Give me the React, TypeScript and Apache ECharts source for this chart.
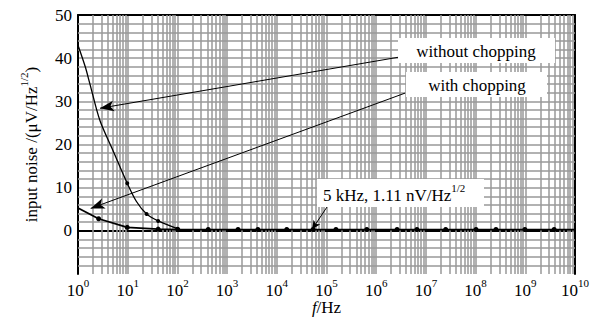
import React, { useEffect, useRef } from 'react';
import * as echarts from 'echarts';

// "with chopping" curve (frequency in Hz, noise in μV/Hz^1/2)
const withFreq = [1, 2.6, 9.8, 41, 102, 417, 1660, 4170, 15850, 53700, 155000, 646000, 2630000, 6600000, 25000000, 102000000, 257000000, 980000000, 3800000000, 10000000000];
const withNoise = [5.3, 2.8, 0.8, 0.4, 0.3, 0.3, 0.3, 0.3, 0.3, 0.3, 0.3, 0.3, 0.3, 0.3, 0.3, 0.3, 0.3, 0.3, 0.3, 0.3];
const withMarked = [false, true, true, true, true, true, true, true, true, true, true, true, true, true, true, true, true, true, true, false];

// "without chopping" curve
const withoutFreq = [1, 1.4, 1.74, 2.75, 5, 9.8, 15, 24, 41, 100];
const withoutNoise = [43, 38, 34, 25.6, 18.7, 11, 6.8, 3.9, 2.3, 0.5];
const withoutMarked = [false, false, false, false, false, true, false, true, true, true];

// axis ticks
const xTickExponents = [0, 1, 2, 3, 4, 5, 6, 7, 8, 9, 10];
const yTickValues = [0, 10, 20, 30, 40, 50];
const yMajorGrid = [-10, 0, 10, 20, 30, 40];
const yMinorSteps = [2, 4, 6, 8];
const minorMultipliers = [2, 3, 4, 5, 6, 7, 8, 9];

// annotation arrows: [fromFreq, fromNoise, toFreq, toNoise]
const arrowWithout = [2750000, 40.2, 2.77, 28.4];
const arrowWith = [3800000, 31.9, 1.8, 5.2];
const arrowPoint = [102000, 5.5, 51000, 0.3];

const FONT = 'Liberation Serif';

export default function App() {
  const ref = useRef<HTMLDivElement>(null);
  useEffect(() => {
    if (!ref.current) return;
    const chart = echarts.init(ref.current, undefined, { renderer: 'svg' });

    const gridLines: any[] = [];
    xTickExponents.slice(0, -1).forEach((e) => {
      minorMultipliers.forEach((m) => gridLines.push({ xAxis: m * Math.pow(10, e) }));
    });
    yMajorGrid.forEach((b) => {
      yMinorSteps.forEach((s) => gridLines.push({ yAxis: b + s }));
    });

    const arrowSeg = (a: number[]) => [{ coord: [a[0], a[1]] }, { coord: [a[2], a[3]] }];

    const tickRich = {
      b: { fontFamily: FONT, fontSize: 17, color: '#000', lineHeight: 22, verticalAlign: 'bottom' },
      s: { fontFamily: FONT, fontSize: 11, color: '#000', lineHeight: 12, verticalAlign: 'top' },
    };

    const option: any = {
      animation: false,
      backgroundColor: '#fff',
      grid: { left: 78, right: 31, top: 15, bottom: 46, containLabel: false, outerBoundsMode: 'none' },
      xAxis: [
        {
          type: 'log',
          logBase: 10,
          min: 1,
          max: 1e10,
          interval: 1,
          name: '{i|f}{n|/Hz}',
          nameLocation: 'middle',
          nameGap: 25,
          nameMoveOverlap: false,
          nameTextStyle: {
            rich: {
              i: { fontFamily: FONT, fontSize: 17, fontStyle: 'italic', color: '#000', lineHeight: 17 },
              n: { fontFamily: FONT, fontSize: 17, color: '#000', lineHeight: 17 },
            },
          },
          axisLine: { show: true, lineStyle: { color: '#000', width: 2 } },
          axisTick: { show: false },
          axisLabel: {
            margin: 3,
            interval: 0,
            formatter: (v: number) => {
              const e = Math.round(Math.log10(v));
              return xTickExponents.includes(e) ? '{b|10}{s|' + e + '}' : '';
            },
            rich: tickRich,
          },
          splitLine: { show: true, showMinLine: false, showMaxLine: false, lineStyle: { color: '#999', width: 1.5 } },
        },
        {
          type: 'log',
          logBase: 10,
          min: 1,
          max: 1e10,
          interval: 1,
          position: 'top',
          axisLine: { show: true, onZero: false, lineStyle: { color: '#000', width: 2 } },
          axisTick: { show: false },
          axisLabel: { show: false },
          splitLine: { show: false },
        },
      ],
      yAxis: [
        {
          type: 'value',
          min: -10,
          max: 50,
          interval: 10,
          name: '{n|input noise /(μV/Hz}{s|1/2}{n|)}',
          nameLocation: 'middle',
          nameGap: 38,
          nameMoveOverlap: false,
          nameTextStyle: {
            rich: {
              n: { fontFamily: FONT, fontSize: 17, color: '#000', lineHeight: 22, verticalAlign: 'bottom' },
              s: { fontFamily: FONT, fontSize: 11, color: '#000', lineHeight: 12, verticalAlign: 'top' },
            },
          },
          axisLine: { show: true, onZero: false, lineStyle: { color: '#000', width: 2 } },
          axisTick: { show: false },
          axisLabel: {
            margin: 6,
            fontFamily: FONT,
            fontSize: 17,
            color: '#000',
            formatter: (v: number) => (yTickValues.includes(v) ? String(v) : ''),
          },
          splitLine: { show: true, showMinLine: false, showMaxLine: false, lineStyle: { color: '#999', width: 1.5 } },
        },
        {
          type: 'value',
          min: -10,
          max: 50,
          interval: 10,
          position: 'right',
          axisLine: { show: true, onZero: false, lineStyle: { color: '#000', width: 2 } },
          axisTick: { show: false },
          axisLabel: { show: false },
          splitLine: { show: false },
        },
      ],
      series: [
        {
          type: 'line',
          name: 'grid',
          data: [],
          silent: true,
          markLine: {
            z: 1,
            silent: true,
            symbol: ['none', 'none'],
            label: { show: false },
            lineStyle: { color: '#999', width: 1.5, type: 'solid' },
            data: gridLines,
          },
        },
        {
          type: 'line',
          name: 'without chopping',
          smooth: 0.3,
          data: withoutFreq.map((f, i) => ({
            value: [f, withoutNoise[i]],
            symbol: withoutMarked[i] ? 'circle' : 'none',
          })),
          symbolSize: 4,
          itemStyle: { color: '#000' },
          lineStyle: { color: '#000', width: 1.3 },
          z: 3,
        },
        {
          type: 'line',
          name: 'with chopping',
          data: withFreq.map((f, i) => ({
            value: [f, withNoise[i]],
            symbol: withMarked[i] ? 'circle' : 'none',
          })),
          symbolSize: 5,
          itemStyle: { color: '#000' },
          lineStyle: { color: '#000', width: 1.8 },
          z: 3,
          markLine: {
            z: 6,
            silent: true,
            symbol: ['none', 'arrow'],
            symbolSize: [8, 14],
            label: { show: false },
            lineStyle: { color: '#000', width: 1, type: 'solid' },
            data: [
              arrowSeg(arrowWithout),
              arrowSeg(arrowWith),
              [
                { coord: [arrowPoint[0], arrowPoint[1]], symbolSize: [6, 9] },
                { coord: [arrowPoint[2], arrowPoint[3]], symbolSize: [6, 9] },
              ],
            ],
          },
        },
      ],
      graphic: [
        { type: 'rect', z: 20, shape: { x: 398, y: 38, width: 157, height: 25 }, style: { fill: '#fff' } },
        {
          type: 'text', z: 21, x: 476, y: 51,
          style: { text: 'without chopping', fontFamily: FONT, fontSize: 17, fill: '#000', align: 'center', verticalAlign: 'middle' },
        },
        { type: 'rect', z: 20, shape: { x: 406, y: 72, width: 141, height: 25 }, style: { fill: '#fff' } },
        {
          type: 'text', z: 21, x: 477, y: 85,
          style: { text: 'with chopping', fontFamily: FONT, fontSize: 17, fill: '#000', align: 'center', verticalAlign: 'middle' },
        },
        { type: 'rect', z: 20, shape: { x: 317, y: 179, width: 167, height: 28 }, style: { fill: '#fff' } },
        {
          type: 'text', z: 21, x: 323, y: 193,
          style: {
            text: '{n|5 kHz, 1.11 nV/Hz}{s|1/2}',
            align: 'left',
            verticalAlign: 'middle',
            rich: {
              n: { fontFamily: FONT, fontSize: 17, fill: '#000', lineHeight: 22, verticalAlign: 'bottom' },
              s: { fontFamily: FONT, fontSize: 11, fill: '#000', lineHeight: 12, verticalAlign: 'top' },
            },
          },
        },
      ],
    };

    chart.setOption(option);
    return () => chart.dispose();
  }, []);

  return (
    <div
      ref={ref}
      style={{ position: 'fixed', left: 0, top: 0, width: 606, height: 320, background: '#fff' }}
    />
  );
}
